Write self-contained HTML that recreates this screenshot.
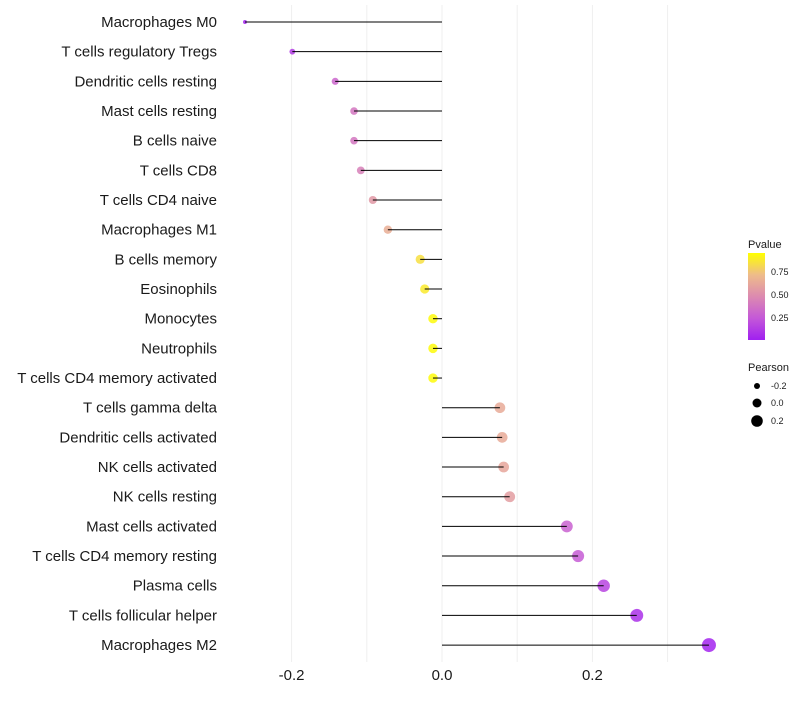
<!DOCTYPE html>
<html><head><meta charset="utf-8"><style>
body{margin:0;background:#fff;}
svg text{font-family:"Liberation Sans",sans-serif;}
</style></head><body>
<svg id="chart" width="800" height="700" xmlns="http://www.w3.org/2000/svg">
<defs><linearGradient id="pg" x1="0" y1="1" x2="0" y2="0">
<stop offset="0" stop-color="#a020f0"/><stop offset="0.25" stop-color="#c458d8"/><stop offset="0.5" stop-color="#dc8ab0"/><stop offset="0.75" stop-color="#eebc8a"/><stop offset="1" stop-color="#ffff00"/></linearGradient></defs>
<g id="grid"></g>
<g id="marks"></g>
<g id="ylabels"></g>
<g id="xlabels"></g>
<g>
<text x="748" y="248" font-size="11" fill="#1a1a1a">Pvalue</text>
<rect x="748" y="253" width="17" height="87" fill="url(#pg)"/>
<text x="771" y="275" font-size="9" fill="#1a1a1a">0.75</text>
<text x="771" y="298" font-size="9" fill="#1a1a1a">0.50</text>
<text x="771" y="321" font-size="9" fill="#1a1a1a">0.25</text>
</g>
<g>
<text x="748" y="371" font-size="11" fill="#1a1a1a">Pearson</text>
<circle cx="757" cy="386" r="3" fill="#000"/><text x="771" y="389" font-size="9" fill="#1a1a1a">-0.2</text>
<circle cx="757" cy="403" r="4.5" fill="#000"/><text x="771" y="406" font-size="9" fill="#1a1a1a">0.0</text>
<circle cx="757" cy="421" r="5.8" fill="#000"/><text x="771" y="424" font-size="9" fill="#1a1a1a">0.2</text>
</g>
</svg>
<script>
const categories=["Macrophages M0","T cells regulatory  Tregs","Dendritic cells resting","Mast cells resting","B cells naive","T cells CD8","T cells CD4 naive","Macrophages M1","B cells memory","Eosinophils","Monocytes","Neutrophils","T cells CD4 memory activated","T cells gamma delta","Dendritic cells activated","NK cells activated","NK cells resting","Mast cells activated","T cells CD4 memory resting","Plasma cells","T cells follicular helper","Macrophages M2"];
const pearson=[-0.262,-0.199,-0.142,-0.117,-0.117,-0.108,-0.092,-0.072,-0.029,-0.023,-0.012,-0.012,-0.012,0.077,0.080,0.082,0.090,0.166,0.181,0.215,0.259,0.355];
const pvalue=[0.02,0.12,0.32,0.4,0.4,0.45,0.57,0.68,0.88,0.92,0.98,0.98,0.98,0.66,0.66,0.64,0.6,0.3,0.27,0.16,0.07,0.02];
const xTicks=[-0.2,0.0,0.2];
const gridVals=[-0.2,-0.1,0,0.1,0.2,0.3];
const NS="http://www.w3.org/2000/svg";
const x=v=>442+v*752;
const y=i=>22+i*29.67;
const stops=[[160,32,240],[196,88,216],[220,138,176],[238,188,138],[255,255,0]];
function col(p){p=Math.max(0,Math.min(1,p));const t=p*4,i=Math.min(3,Math.floor(t)),f=t-i;const a=stops[i],b=stops[i+1];return `rgb(${a.map((c,k)=>Math.round(c+(b[k]-c)*f)).join(",")})`;}
const rad=v=>Math.sqrt(Math.max(3,23+v*73));
function mk(t,attrs,parent){const e=document.createElementNS(NS,t);for(const k in attrs)e.setAttribute(k,attrs[k]);parent.appendChild(e);return e;}
const grid=document.getElementById('grid'),marks=document.getElementById('marks'),yl=document.getElementById('ylabels'),xl=document.getElementById('xlabels');
gridVals.forEach(v=>{const l=mk('line',{x1:x(v),x2:x(v),y1:5,y2:662,stroke:'#efefef','stroke-width':1},grid);

});
categories.forEach((c,i)=>{
const cy=y(i);
const dot=mk('circle',{cx:x(pearson[i]),cy:cy,r:rad(pearson[i]),fill:col(pvalue[i]),'fill-opacity':0.85},marks);


const seg=mk('line',{x1:x(0),x2:x(pearson[i]),y1:cy,y2:cy,stroke:'#000','stroke-width':1},marks);


const t=mk('text',{x:217,y:cy+5,'text-anchor':'end','font-size':15,fill:'#1a1a1a'},yl);
t.textContent=c;


});
xTicks.forEach(v=>{const t=mk('text',{x:x(v),y:680,'text-anchor':'middle','font-size':15,fill:'#1a1a1a'},xl);
t.textContent=v.toFixed(1);

});
</script>
</body></html>
